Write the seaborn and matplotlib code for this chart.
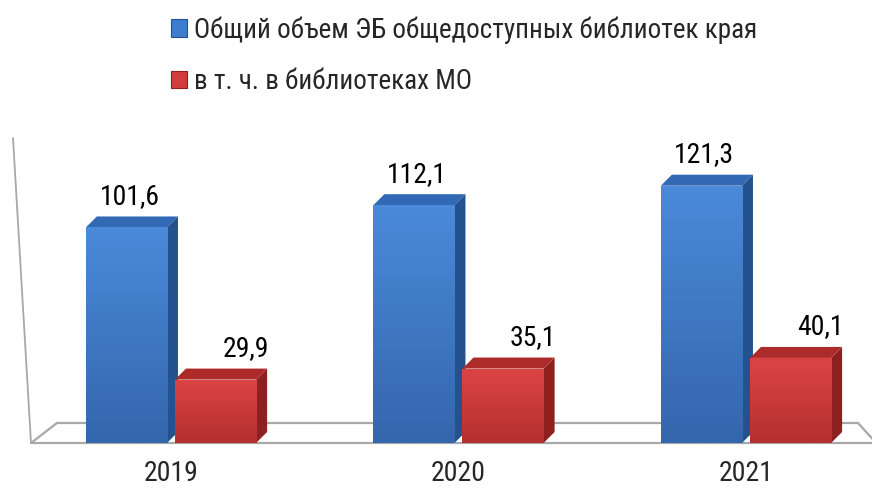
import numpy as np
import pandas as pd
import matplotlib
matplotlib.use("Agg")
import matplotlib.pyplot as plt
from matplotlib.patches import Polygon, Patch
from matplotlib.lines import Line2D
from matplotlib.colors import to_rgb
import seaborn as sns

# ---- data ----
years = ["2019", "2020", "2021"]
series_names = ["Общий объем ЭБ общедоступных библиотек края", "в т. ч. в библиотеках МО"]
total_values = [101.6, 112.1, 121.3]
mo_values = [29.9, 35.1, 40.1]
value_labels_total = ["101,6", "112,1", "121,3"]
value_labels_mo = ["29,9", "35,1", "40,1"]

df = pd.DataFrame({
    "year": years * 2,
    "value": total_values + mo_values,
    "series": [series_names[0]] * 3 + [series_names[1]] * 3,
})

sns.set_theme(style="white")
FONT = ["Roboto Condensed", "PT Sans Narrow", "Liberation Sans", "DejaVu Sans"]
plt.rcParams["font.family"] = FONT

W, H = 872, 493
fig = plt.figure(figsize=(W / 100, H / 100), dpi=100)
fig.patch.set_facecolor("white")

# axes placement (pixels)
ax_left, ax_right, ax_bottom, ax_top = 32.5, 873, 443, 146
ax = fig.add_axes([ax_left / W, 1 - ax_bottom / H, (ax_right - ax_left) / W, (ax_bottom - ax_top) / H])

front_cols = {series_names[0]: "#3d7ccf", series_names[1]: "#d33c3c"}
side_cols = {series_names[0]: "#24528f", series_names[1]: "#8f2020"}
top_cols = {series_names[0]: "#3169b5", series_names[1]: "#ad2b2b"}
grad = {series_names[0]: ("#4a8ad9", "#3466ad"), series_names[1]: ("#dc4444", "#b52f2f")}

sns.barplot(data=df, x="year", y="value", hue="series", hue_order=series_names,
            palette=front_cols, width=0.62, gap=0.09, saturation=1, ax=ax, legend=False,
            edgecolor="none", linewidth=0)

XLIM = (-0.4817, 2.4418)
YLIM = (0, 140)
ax.set_xlim(*XLIM)
ax.set_ylim(*YLIM)

px_x = ax.bbox.width / (XLIM[1] - XLIM[0])
px_y = ax.bbox.height / (YLIM[1] - YLIM[0])
DX, DY = 11 / px_x, 11 / px_y   # depth offset in data units


def vgrad(c1, c2, n=64):
    a, b = np.array(to_rgb(c1)), np.array(to_rgb(c2))
    t = np.linspace(0, 1, n)[:, None]
    return (a * (1 - t) + b * t)[:, None, :]


label_sets = [value_labels_total, value_labels_mo]
label_dx = [3, 30]
for si, (cont, name) in enumerate(zip(ax.containers, series_names)):
    z = 2 + si * 2
    for bi, rect in enumerate(cont):
        x0, w, h = rect.get_x(), rect.get_width(), rect.get_height()
        x1 = x0 + w
        rect.set_zorder(z + 0.5)
        im = ax.imshow(vgrad(grad[name][0], grad[name][1]), extent=(x0, x1, 0, h),
                       aspect="auto", origin="upper", zorder=z + 0.6, interpolation="bilinear")
        im.set_clip_path(rect)
        side = Polygon([(x1, 0), (x1 + DX, DY), (x1 + DX, h + DY), (x1, h)],
                       closed=True, facecolor=side_cols[name], edgecolor="none", zorder=z)
        top = Polygon([(x0, h), (x0 + DX, h + DY), (x1 + DX, h + DY), (x1, h)],
                      closed=True, facecolor=top_cols[name], edgecolor="none", zorder=z)
        ax.add_patch(side)
        ax.add_patch(top)
        ax.annotate(label_sets[si][bi], xy=(x0 + w / 2, h), xytext=(label_dx[si], 31),
                    textcoords="offset pixels", ha="center", va="center",
                    fontsize=20, color="black", family=FONT, annotation_clip=False, zorder=10)

ax.set_xlim(*XLIM)
ax.set_ylim(*YLIM)

# floor and wall (chart frame decoration, in axes fraction)
fx = lambda px: px / ax.bbox.width
fy = lambda px: px / ax.bbox.height
floor = Polygon([(fx(-1.5), 0), (fx(24.5), fy(20)), (fx(825.5), fy(20)), (fx(841), fy(3)), (1.0, 0)],
                closed=False, transform=ax.transAxes, facecolor="white",
                edgecolor="#a8a8a8", linewidth=1.6, zorder=1, clip_on=False)
ax.add_patch(floor)
ax.add_line(Line2D([fx(-1.5), fx(841)], [0, 0], transform=ax.transAxes,
                   color="#a8a8a8", linewidth=1.6, zorder=1, clip_on=False))
ax.add_line(Line2D([fx(-19.5), fx(-1.5)], [fy(305), 0], transform=ax.transAxes,
                   color="#a8a8a8", linewidth=1.3, zorder=1, clip_on=False))

for s in ax.spines.values():
    s.set_visible(False)
ax.set_yticks([])
ax.set_xlabel("")
ax.set_ylabel("")
ax.tick_params(axis="x", length=0, pad=12, labelsize=20)
for t in ax.get_xticklabels():
    t.set_family(FONT)
ax.set_facecolor("none")

# legend
handles = [Patch(facecolor=front_cols[n], edgecolor=side_cols[n], linewidth=0.8) for n in series_names]
fig.legend(handles, series_names, loc="upper left", bbox_to_anchor=(171 / W, 1 - 16 / H),
           frameon=False, handlelength=0.6, handleheight=0.6,
           handletextpad=0.25, labelspacing=0.9, borderpad=0, borderaxespad=0,
           prop={"family": FONT, "size": 19.5})

fig.savefig("out.png", dpi=100, facecolor="white")
